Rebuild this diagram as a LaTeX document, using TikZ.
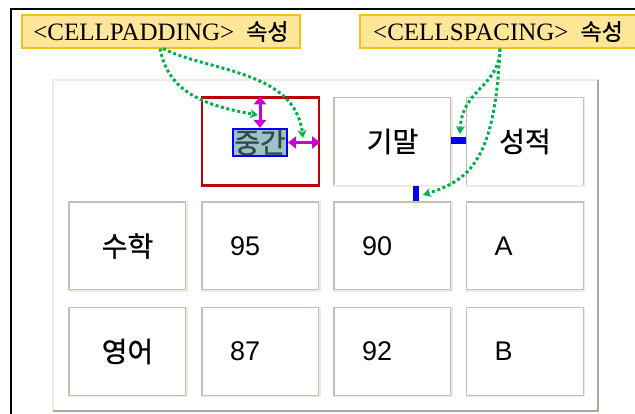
\documentclass[tikz,border=0pt]{standalone}
\usepackage{fontspec}
\setmainfont{Liberation Serif}
\newfontfamily\krfont[FakeBold=0.8]{Noto Sans CJK KR}
\newfontfamily\numfont{Liberation Sans}
\usetikzlibrary{arrows.meta}
\definecolor{tipyellow}{HTML}{FFE699}
\definecolor{tipgold}{HTML}{F2C21B}
\definecolor{hintgreen}{HTML}{00B050}
\definecolor{padpink}{HTML}{CC00CC}
\definecolor{cellred}{HTML}{C00000}
\definecolor{hlfill}{HTML}{9DC3C9}
\definecolor{hltext}{HTML}{34474B}
\definecolor{edgedark}{HTML}{C4C0B4}
\definecolor{edgelight}{HTML}{EEECE1}
\definecolor{tabdark}{HTML}{A9A99E}

\begin{document}
\begin{tikzpicture}[%
  x=1pt, y=-1pt,
  cell/.style={draw=edgedark, line width=1.6pt, minimum width=117pt,
    minimum height=88pt, inner sep=0pt},
  hcell/.style={cell, font=\krfont\fontsize{28}{28}\selectfont},
  ncell/.style={cell, font=\numfont\fontsize{27}{27}\selectfont,
    text width=61pt, align=left, inner xsep=28pt},
  tip/.style={fill=tipyellow, draw=tipgold, line width=1.2pt,
    minimum height=33pt, inner sep=0pt, font=\fontsize{25}{25}\selectfont},
  hint/.style={hintgreen, line width=3pt, dash pattern=on 3pt off 2.6pt,
    -{Stealth[length=8pt, width=9pt]}},
  gap/.style={padpink, line width=3pt,
    {Triangle[length=8pt, width=12pt]}-{Triangle[length=8pt, width=12pt]}},
  bar/.style={fill=blue, inner sep=0pt}]
\useasboundingbox (0,0) rectangle (635,414);

% frame and table
\draw[line width=1.6pt] (11,414) -- (11,9) -- (635,9);
\draw[edgelight, line width=2.5pt] (53,411) -- (53,80) -- (598,80);
\draw[tabdark, line width=2.5pt] (598,80) -- (598,411) -- (53,411);

% cells
\node[cell, draw=cellred, line width=2.2pt] (c12) at (260.5,141.5) {};
\node[hcell] (c13) at (392.5,141.5) {기말};
\node[hcell] (c14) at (525,141.5) {성적};
\node[hcell] (c21) at (127.5,246) {수학};
\node[ncell] (c22) at (260.5,246) {95};
\node[ncell] (c23) at (392.5,246) {90};
\node[ncell] (c24) at (525,246) {A};
\node[hcell] (c31) at (127.5,351.5) {영어};
\node[ncell] (c32) at (260.5,351.5) {87};
\node[ncell] (c33) at (392.5,351.5) {92};
\node[ncell] (c34) at (525,351.5) {B};
\foreach \c in {c13,c14,c21,c22,c23,c24,c31,c32,c33,c34}
  \draw[edgelight, line width=1.6pt] (\c.north east) -- (\c.south east) -- (\c.south west);

\node[fill=hlfill, draw=blue, line width=2.2pt, inner sep=0pt, minimum width=54pt,
  minimum height=27pt, text=hltext, font=\krfont\fontsize{28}{28}\selectfont]
  (midtext) at (260,142.5) {중간};

% spacing marks
\node[bar, minimum width=15pt, minimum height=7pt] (hbar) at (458.5,140.5) {};
\node[bar, minimum width=6pt, minimum height=15pt] (vbar) at (416,194) {};

% padding marks
\draw[gap] (midtext.north) -- (midtext.north |- c12.north);
\draw[gap] (midtext.east) -- (midtext.east -| c12.east);

% labels
\node[tip, minimum width=278pt] (padlabel) at (161,31.5)
  {<CELLPADDING>\hspace{12pt}{\krfont\fontsize{23}{23}\selectfont 속성}};
\node[tip, minimum width=276pt] (spacelabel) at (498,31.5)
  {<CELLSPACING>\hspace{12pt}{\krfont\fontsize{23}{23}\selectfont 속성}};

\coordinate (padv) at (258,115);
\coordinate (padh) at (303,138);
\coordinate (spah) at (460,134);
\coordinate (spav) at (423,195);

\draw[hint] ([xshift=-1pt]padlabel.south) .. controls (168,90) and (200,105) .. (padv);
\draw[hint] ([xshift=2pt]padlabel.south) .. controls (210,72) and (295,70) .. (padh);
\draw[hint] ([xshift=2pt]spacelabel.south) .. controls (499,88) and (462,88) .. (spah);
\draw[hint] ([xshift=2pt]spacelabel.south) .. controls (495,160) and (470,180) .. (spav);
\end{tikzpicture}
\end{document}
